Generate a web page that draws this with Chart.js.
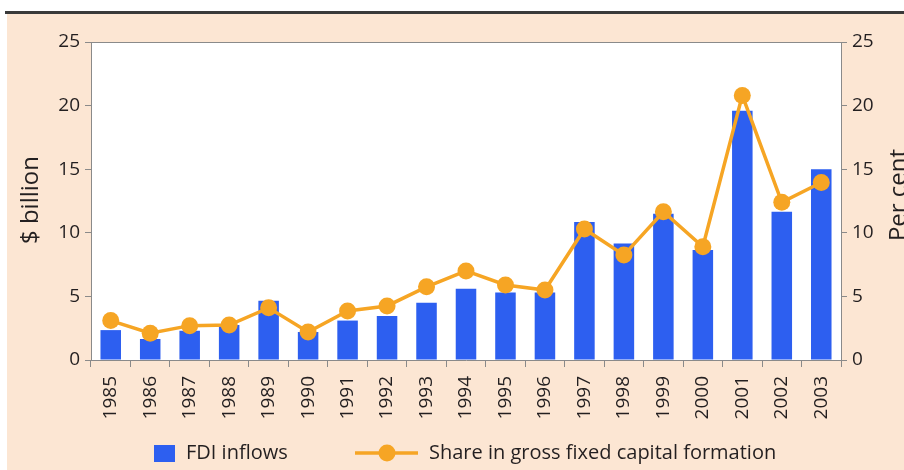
<!DOCTYPE html>
<html>
<head>
<meta charset="utf-8">
<script src="https://cdn.jsdelivr.net/npm/chart.js@4/dist/chart.umd.min.js"></script>
<style>
  body { margin: 0; background: #fff; width: 904px; height: 470px; overflow: hidden; position: relative; }
  #topline { position: absolute; left: 5px; top: 11px; width: 899px; height: 3px; background: #3a3a3a; }
  #panel { position: absolute; left: 7px; top: 14px; right: 0; bottom: 0; background: #fce6d3; }
  #chart { position: absolute; left: 0; top: 0; }
</style>
</head>
<body>
<div id="topline"></div>
<div id="panel"></div>
<canvas id="chart" width="904" height="470"></canvas>
<script>
// 연도 (x축)
const years = ['1985', '1986', '1987', '1988', '1989', '1990', '1991', '1992', '1993', '1994',
               '1995', '1996', '1997', '1998', '1999', '2000', '2001', '2002', '2003'];
// FDI 유입액 ($ billion)
const fdiInflows = [2.35, 1.65, 2.3, 2.75, 4.65, 2.2, 3.1, 3.45, 4.5, 5.6,
                    5.3, 5.3, 10.85, 9.15, 11.5, 8.65, 19.6, 11.65, 15.0];
// 총고정자본형성 대비 비중 (per cent)
const shareGfcf = [3.1, 2.1, 2.7, 2.75, 4.1, 2.2, 3.85, 4.25, 5.75, 7.0,
                   5.9, 5.5, 10.3, 8.25, 11.65, 8.9, 20.8, 12.4, 13.95];
// 좌우 축 눈금
const yTicks = [0, 5, 10, 15, 20, 25];

const blue = '#2d5ff0';
const orange = '#f6a524';
const axisColor = '#8a8a8a';
const textColor = '#231f20';
const font = '"Open Sans", sans-serif';

// 플롯 영역 흰 배경, 위쪽 테두리, 축 제목, 범례를 직접 그림
const decorPlugin = {
    id: 'decor',
    beforeDraw(chart) {
        const { ctx, chartArea: a } = chart;
        ctx.save();
        ctx.fillStyle = '#ffffff';
        ctx.fillRect(a.left, a.top, a.right - a.left, a.bottom - a.top);
        ctx.restore();
    },
    afterDraw(chart) {
        const { ctx, chartArea: a } = chart;
        ctx.save();
        // 위쪽 테두리
        ctx.strokeStyle = axisColor;
        ctx.lineWidth = 1;
        ctx.beginPath();
        ctx.moveTo(a.left - 6, a.top + 0.5);
        ctx.lineTo(a.right + 6, a.top + 0.5);
        ctx.stroke();

        // 축 제목
        ctx.fillStyle = textColor;
        ctx.font = '24px ' + font;
        ctx.textAlign = 'center';
        ctx.textBaseline = 'middle';
        ctx.save();
        ctx.translate(31, 200);
        ctx.rotate(-Math.PI / 2);
        ctx.fillText('$ billion', 0, 0);
        ctx.restore();
        ctx.save();
        ctx.translate(899, 195);
        ctx.rotate(-Math.PI / 2);
        ctx.fillText('Per cent', 0, 0);
        ctx.restore();

        // 범례
        const ly = 453;
        ctx.fillStyle = blue;
        ctx.fillRect(154, 445, 21, 17);
        ctx.strokeStyle = orange;
        ctx.lineWidth = 3.5;
        ctx.beginPath();
        ctx.moveTo(355, ly);
        ctx.lineTo(418, ly);
        ctx.stroke();
        ctx.fillStyle = orange;
        ctx.beginPath();
        ctx.arc(387, ly, 8.5, 0, Math.PI * 2);
        ctx.fill();
        ctx.fillStyle = textColor;
        ctx.font = '20px ' + font;
        ctx.textAlign = 'left';
        ctx.fillText('FDI inflows', 186, ly);
        ctx.fillText('Share in gross fixed capital formation', 429, ly);
        ctx.restore();
    }
};

const ctx = document.getElementById('chart').getContext('2d');
new Chart(ctx, {
    type: 'bar',
    data: {
        labels: years,
        datasets: [
            {
                type: 'line',
                label: 'Share in gross fixed capital formation',
                data: shareGfcf,
                yAxisID: 'y1',
                borderColor: orange,
                backgroundColor: orange,
                borderWidth: 3.5,
                pointRadius: 8.5,
                pointBorderWidth: 0,
                pointBackgroundColor: orange,
                tension: 0,
                order: 1
            },
            {
                label: 'FDI inflows',
                data: fdiInflows,
                yAxisID: 'y',
                backgroundColor: blue,
                barPercentage: 0.52,
                categoryPercentage: 1,
                order: 2
            }
        ]
    },
    options: {
        responsive: false,
        animation: false,
        devicePixelRatio: 1,
        layout: { padding: { top: 42, left: 0, right: 0, bottom: 0 } },
        plugins: {
            legend: { display: false },
            tooltip: { enabled: false }
        },
        scales: {
            x: {
                offset: true,
                grid: { offset: true, drawOnChartArea: false, color: axisColor, tickLength: 7 },
                border: { color: axisColor },
                ticks: {
                    color: textColor,
                    font: { family: font, size: 19 },
                    minRotation: 90,
                    maxRotation: 90,
                    padding: 9
                },
                afterFit(scale) { scale.height = 110; }
            },
            y: {
                position: 'left',
                min: 0,
                max: 25,
                afterBuildTicks(scale) { scale.ticks = yTicks.map(v => ({ value: v })); },
                grid: { drawOnChartArea: false, color: axisColor, tickLength: 6 },
                border: { color: axisColor },
                ticks: { color: textColor, font: { family: font, size: 19 }, padding: 5 },
                afterFit(scale) { scale.width = 91; }
            },
            y1: {
                position: 'right',
                min: 0,
                max: 25,
                afterBuildTicks(scale) { scale.ticks = yTicks.map(v => ({ value: v })); },
                grid: { drawOnChartArea: false, color: axisColor, tickLength: 6 },
                border: { color: axisColor },
                ticks: { color: textColor, font: { family: font, size: 19 }, padding: 5 },
                afterFit(scale) { scale.width = 63; }
            }
        }
    },
    plugins: [decorPlugin]
});
</script>
</body>
</html>
